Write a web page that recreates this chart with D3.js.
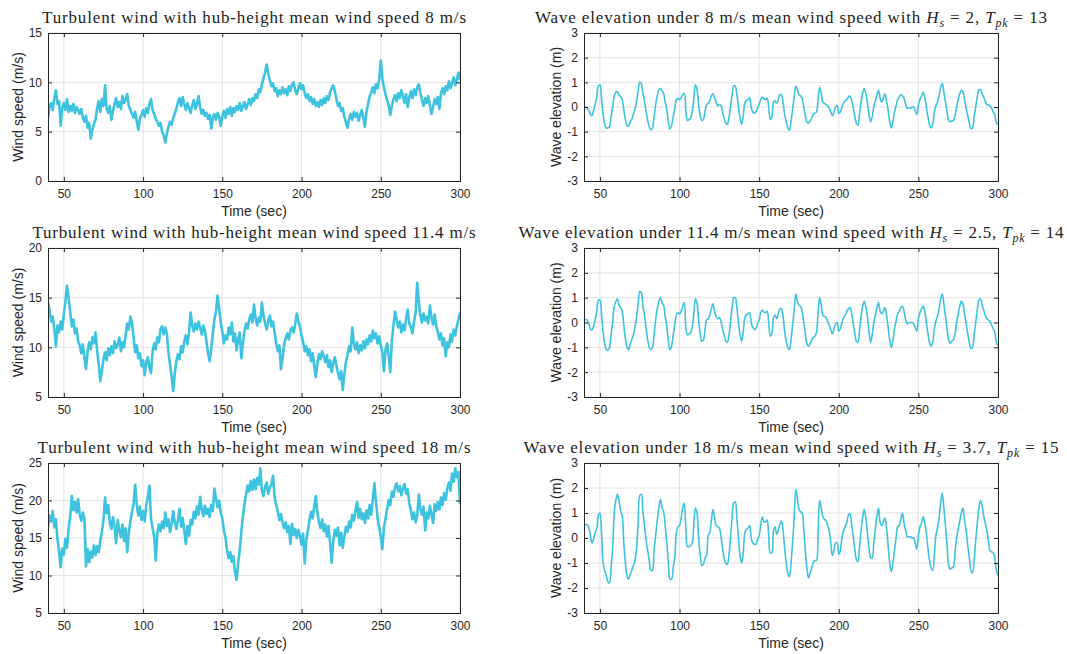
<!DOCTYPE html>
<html>
<head>
<meta charset="utf-8">
<script src="https://cdn.jsdelivr.net/npm/d3@7"></script>
<style>
  html, body { margin: 0; padding: 0; background: #fff; }
  svg { display: block; }
  .tick text { font-family: "Liberation Sans", Arial, sans-serif; font-size: 12px; fill: #262626; }
  .lbl { font-family: "Liberation Sans", Arial, sans-serif; font-size: 14px; fill: #262626; }
  .ttl { font-family: "Liberation Serif", "Times New Roman", serif; font-size: 17px; fill: #222; }
</style>
</head>
<body>
<svg id="chart" width="1067" height="654"></svg>
<script>
// time axis, 1 s samples from 40 to 300 s
var tStart = 40, tEnd = 300;
var xTicks = [50, 100, 150, 200, 250, 300];

// hub-height wind speed (m/s)
var wind8 = [
  6.3, 7.6, 7.9, 7.2, 8.4, 9.2, 7.8, 8.1, 5.6, 7.4,
  7.9, 7.2, 8.3, 7.0, 7.6, 7.1, 7.8, 6.9, 7.5, 7.2,
  6.8, 7.3, 6.4, 6.0, 6.6, 5.4, 5.9, 4.3, 5.2, 5.8,
  6.2, 7.4, 8.1, 7.0, 8.3, 7.6, 9.7, 7.3, 6.9, 7.6,
  6.2, 7.1, 7.8, 8.4, 7.5, 8.0, 7.3, 8.6, 7.9, 8.2,
  8.8, 7.6, 7.2, 6.8, 6.4, 7.0, 6.1, 5.2, 6.3, 6.7,
  7.2, 6.5, 7.4, 6.9, 7.8, 8.3, 7.2, 6.8, 6.3, 6.0,
  5.6, 5.9, 5.0, 4.6, 3.9, 4.8, 5.5, 6.0, 5.7, 6.4,
  6.8, 7.3, 8.0, 8.4, 7.6, 8.5, 7.8, 7.2, 7.9, 7.4,
  6.9, 7.7, 8.2, 7.3, 7.8, 8.6, 7.5, 6.8, 7.2, 6.6,
  6.9, 6.3, 6.7, 5.3, 6.4, 6.8, 6.2, 6.9, 6.5, 5.6,
  6.6, 7.1, 6.4, 7.3, 6.8, 7.5, 6.6, 7.4, 7.0, 7.6,
  7.2, 7.9, 7.1, 7.6, 8.0, 7.3, 7.8, 8.3, 7.7, 8.4,
  8.1, 8.8, 8.4, 9.3, 9.0, 9.8, 10.4, 11.0, 11.8, 10.9,
  10.2, 9.6, 9.9, 9.1, 9.4, 8.6, 9.2, 8.8, 9.5, 8.9,
  9.3, 8.7, 9.6, 9.1, 9.8, 10.0, 9.2, 8.8, 9.4, 9.9,
  9.3, 9.7, 8.9, 8.4, 8.8, 8.1, 8.5, 7.8, 8.3, 7.6,
  8.0, 7.5, 8.2, 7.7, 8.4, 7.9, 8.6, 8.2, 9.0, 9.4,
  9.7, 9.1, 8.3, 7.6, 7.9, 7.1, 7.4, 6.5, 6.0, 5.4,
  6.3, 6.8, 6.2, 7.0, 6.5, 6.9, 6.1, 6.7, 7.2, 6.4,
  5.5, 7.0, 7.8, 8.6, 9.0, 9.5, 8.9, 9.8, 9.4, 10.3,
  12.2, 10.4, 9.5, 8.8, 8.2, 7.7, 6.7, 7.6, 8.3, 8.7,
  8.1, 8.9, 8.4, 9.2, 8.6, 7.9, 8.8, 7.5, 8.5, 9.1,
  8.4, 9.3, 8.7, 9.5, 9.8, 8.9, 8.2, 7.6, 8.4, 7.9,
  8.6, 7.7, 6.8, 7.5, 8.3, 7.8, 8.5, 7.3, 8.9, 9.4,
  8.8, 9.6, 9.2, 10.1, 9.4, 9.9, 10.5, 9.7, 10.3, 11.0,
  10.2
];
var wind114 = [
  14.5, 13.8, 12.6, 13.1, 11.9, 10.1, 12.2, 11.5, 12.6, 11.8,
  13.4, 14.6, 16.2, 15.0, 13.6, 12.1, 12.8, 11.4, 11.9, 10.6,
  10.2, 9.4, 10.3, 8.9, 7.8, 9.6, 10.5, 9.8, 11.0, 10.4,
  11.5, 9.7, 8.3, 6.6, 7.6, 8.8, 9.5, 8.7, 9.9, 9.2,
  10.1, 9.4, 10.6, 9.9, 10.3, 11.0, 9.6, 10.5, 10.0, 11.2,
  12.4, 11.8, 13.1, 12.5, 11.0, 9.5, 10.2, 8.9, 9.4, 8.1,
  8.7, 7.2, 8.5, 9.0, 8.0, 7.4, 9.6, 10.4, 9.8, 11.0,
  10.5, 11.8, 12.1, 11.3, 12.0, 11.4, 9.5, 8.3, 7.1, 5.6,
  7.4, 8.6, 9.3, 8.8, 10.1, 9.5, 10.6, 11.2, 10.3, 11.5,
  13.5, 12.2, 11.6, 12.4, 11.8, 12.6, 12.0, 11.3, 12.2, 11.7,
  10.6, 9.4, 8.6, 9.8, 11.4, 12.8, 13.6, 15.2, 13.9, 12.5,
  11.6, 10.4, 11.2, 10.8, 12.0, 11.3, 12.5, 10.6, 11.4, 9.7,
  10.8, 11.5, 8.9, 10.4, 11.6, 12.4, 11.9, 12.8, 13.3, 12.5,
  14.3, 12.9, 12.2, 13.0, 12.6, 14.5, 13.2, 12.4, 11.8, 12.7,
  13.2, 12.1, 12.6, 11.5, 10.4, 9.6, 10.2, 7.8, 8.9, 10.3,
  10.9, 11.4, 10.8, 11.7, 12.0, 11.5, 12.3, 13.4, 12.6, 12.1,
  11.2, 10.5, 9.6, 10.1, 9.2, 9.8, 8.6, 9.4, 8.2, 7.0,
  8.4, 9.3, 8.8, 9.6, 9.1, 8.5, 9.2, 8.0, 8.7, 7.5,
  8.4, 9.0, 8.2, 7.4, 6.8, 7.6, 5.7, 7.3, 8.5, 9.2,
  10.1, 9.6, 12.0, 10.4, 9.8, 10.5, 9.4, 10.2, 9.7, 10.6,
  9.9, 10.8, 10.3, 11.2, 10.6, 11.7, 10.9, 11.4, 10.4, 11.1,
  10.2, 9.5, 7.6, 9.8, 10.4, 9.1, 7.5, 10.6, 12.2, 13.6,
  12.8, 12.0, 12.6, 11.5, 12.3, 11.7, 12.9, 13.8, 12.4, 12.0,
  11.4, 12.6, 13.5, 16.5, 14.6, 13.2, 12.5, 13.4, 12.7, 13.1,
  12.4, 14.2, 13.0, 12.3, 13.3, 12.1, 11.6, 10.8, 11.4, 10.2,
  10.9, 9.1, 10.5, 10.0, 11.3, 10.6, 11.8, 11.2, 12.1, 12.8,
  13.5
];
var wind18 = [
  16.5, 18.0, 17.2, 18.6, 16.4, 17.5, 14.8, 13.2, 11.1, 13.6,
  12.8, 14.9, 13.7, 16.2, 17.8, 20.6, 18.7, 19.8, 18.4, 20.2,
  18.1, 17.3, 18.4, 17.6, 11.2, 13.5, 11.8, 13.2, 12.4, 14.0,
  12.7, 13.9, 13.1, 14.6, 15.8, 17.4, 20.4, 18.3, 19.4, 17.0,
  16.2, 17.8, 16.5, 14.3, 17.4, 16.0, 15.1, 16.8, 14.6, 16.3,
  13.1, 15.8, 17.2, 18.5, 19.6, 22.1, 19.4, 18.0, 19.2, 17.4,
  18.6, 17.2, 19.3, 20.5, 22.0, 17.6, 16.3, 15.2, 12.0, 15.6,
  16.8, 15.9, 17.2, 16.3, 18.4, 16.6, 17.5, 15.8, 16.9, 18.6,
  17.1, 16.2, 17.4, 18.9, 16.5, 17.7, 16.0, 14.2, 16.6, 15.3,
  17.4, 16.8, 18.5, 17.6, 19.2, 18.1, 20.5, 18.8, 17.9, 19.3,
  18.2, 18.9, 17.8, 19.4, 18.6, 21.6, 20.3, 19.1, 20.0, 18.4,
  17.6, 16.0, 15.1, 13.4, 12.3, 13.1, 11.8, 12.6, 10.5, 9.4,
  11.6, 13.4, 15.8, 17.9, 19.6, 20.8, 22.0, 21.2, 22.6, 21.4,
  22.8, 21.5, 23.0, 22.1, 24.3, 21.3, 20.6, 21.8, 22.4, 20.9,
  21.7, 22.2, 23.3, 20.5, 19.4, 18.6, 17.4, 18.2, 17.0, 16.3,
  17.1, 15.8, 16.6, 14.2, 16.9, 15.4, 16.2, 15.0, 16.1, 15.3,
  14.1, 15.6, 11.6, 14.8, 16.0, 17.4, 18.5, 17.6, 19.2, 20.6,
  18.4, 17.1, 16.3, 17.5, 15.9, 16.8, 15.2, 16.6, 14.4, 11.7,
  14.6, 16.1, 15.3, 16.4, 14.0, 15.7, 13.7, 15.2, 16.5, 15.8,
  17.2, 16.4, 18.1, 17.3, 18.6, 19.8, 17.7, 18.9, 17.5, 18.3,
  17.0, 18.7, 17.6, 19.4, 18.1, 20.2, 22.3, 19.8, 17.6, 16.4,
  15.2, 13.5, 16.4, 17.6, 18.9, 20.1, 19.4, 21.2, 20.5, 21.8,
  22.3, 21.2, 21.9, 20.7, 21.6, 22.2, 20.9, 21.5, 19.6, 18.7,
  17.5, 18.4, 17.1, 18.0, 20.8, 18.9, 18.1, 19.2, 16.0, 18.4,
  17.6, 19.3, 18.2, 17.0, 19.5, 18.6, 19.8, 18.8, 20.4, 19.4,
  21.0, 20.1, 21.6, 22.4, 21.3, 23.6, 22.5, 24.3, 23.1, 23.8,
  19.5
];

// wave elevation (m)
var wave8 = [
  0.0, 0.0, -0.05, -0.15, -0.3, -0.35, -0.15, 0.1, 0.4, 0.85,
  0.9, 0.35, -0.3, -0.7, -0.85, -0.85, -0.8, -0.4, 0.0, 0.45,
  0.6, 0.62, 0.48, 0.42, 0.3, -0.1, -0.5, -0.75, -0.78, -0.6,
  -0.5, -0.3, -0.1, 0.2, 0.65, 1.0, 0.95, 0.55, 0.25, -0.2,
  -0.55, -0.8, -0.93, -0.85, -0.4, 0.1, 0.45, 0.7, 0.75, 0.65,
  0.55, 0.2, -0.1, -0.6, -0.9, -0.75, -0.4, -0.1, 0.3, 0.35,
  0.3, 0.38, 0.5, 0.55, -0.2, -0.55, -0.5, -0.45, -0.2, 0.35,
  0.9, 0.7, 0.1, -0.35, -0.55, -0.5, -0.2, 0.1, 0.15, 0.25,
  0.45, 0.55, 0.35, 0.2, 0.05, 0.1, 0.05, -0.2, -0.45, -0.65,
  -0.7, -0.45, 0.0, 0.5, 0.85, 0.85, 0.5, 0.0, -0.45, -0.7,
  -0.35, 0.15, 0.25, 0.3, 0.38, 0.0, -0.2, -0.25, -0.2, -0.05,
  0.1, 0.3, 0.4, 0.35, 0.3, 0.35, 0.0, -0.5, -0.4, 0.2,
  0.25, 0.15, 0.3, 0.5, 0.5, 0.2, -0.3, -0.6, -0.85, -0.95,
  -0.6, -0.1, 0.4, 0.85, 0.7, 0.5, 0.45, 0.35, 0.0, -0.35,
  -0.6, -0.65, -0.55, -0.45, -0.3, -0.25, -0.2, 0.3, 0.8, 0.55,
  0.2, 0.15, 0.1, 0.05, -0.05, -0.2, -0.35, -0.2, 0.0, 0.05,
  -0.25, -0.2, 0.0, 0.15, 0.25, 0.3, 0.4, 0.45, 0.3, 0.0,
  -0.35, -0.65, -0.75, -0.3, 0.2, 0.55, 0.75, 0.55, 0.15, -0.3,
  -0.6, -0.4, 0.0, 0.25, 0.5, 0.68, 0.35, 0.2, 0.35, 0.52,
  0.25, -0.15, -0.6, -0.85, -0.6, -0.2, 0.05, 0.3, 0.4, 0.5,
  0.45, 0.35, 0.1, -0.05, -0.05, -0.05, 0.0, 0.0, -0.15, -0.3,
  0.1, 0.3, 0.45, 0.6, 0.4, 0.0, -0.4, -0.7, -0.85, -0.7,
  -0.2, 0.05, 0.2, 0.45, 0.8, 0.95, 0.6, 0.2, -0.2, -0.55,
  -0.6, -0.55, -0.55, -0.35, 0.0, 0.3, 0.55, 0.68, 0.6, 0.3,
  -0.05, -0.35, -0.65, -0.88, -0.85, -0.4, 0.0, 0.4, 0.7, 0.7,
  0.55, 0.4, 0.25, 0.1, 0.08, 0.05, -0.05, -0.2, -0.3, -0.65,
  -0.7
];
var wave114 = [
  0.1, 0.12, 0.1, -0.05, -0.25, -0.3, -0.15, 0.1, 0.45, 0.9,
  0.92, 0.35, -0.4, -0.85, -1.08, -1.12, -1.0, -0.5, 0.0, 0.65,
  0.85, 0.95, 0.7, 0.6, 0.45, -0.1, -0.65, -1.0, -1.1, -0.85,
  -0.7, -0.5, -0.2, 0.2, 0.75, 1.25, 1.2, 0.65, 0.3, -0.25,
  -0.7, -1.0, -1.1, -1.0, -0.5, 0.1, 0.55, 0.85, 1.0, 0.8,
  0.7, 0.25, -0.15, -0.75, -1.1, -0.95, -0.5, -0.1, 0.3, 0.4,
  0.35, 0.45, 0.65, 0.8, -0.25, -0.5, -0.45, -0.4, -0.2, 0.4,
  0.95, 0.75, 0.1, -0.45, -0.75, -0.7, -0.3, 0.1, 0.15, 0.3,
  0.55, 0.75, 0.45, 0.25, 0.15, 0.2, 0.05, -0.25, -0.5, -0.75,
  -0.8, -0.55, 0.0, 0.6, 1.0, 1.0, 0.6, 0.0, -0.5, -0.75,
  -0.4, 0.2, 0.3, 0.35, 0.4, 0.0, -0.2, -0.28, -0.25, -0.05,
  0.1, 0.4, 0.5, 0.42, 0.4, 0.45, 0.0, -0.55, -0.45, 0.2,
  0.3, 0.15, 0.35, 0.55, 0.55, 0.25, -0.35, -0.75, -1.0, -1.1,
  -0.7, -0.1, 0.5, 1.15, 0.85, 0.7, 0.65, 0.45, 0.0, -0.45,
  -0.85, -0.95, -0.85, -0.7, -0.6, -0.55, -0.4, 0.35, 1.0, 0.7,
  0.3, 0.25, 0.2, 0.05, -0.1, -0.3, -0.45, -0.25, -0.05, 0.0,
  -0.35, -0.25, 0.0, 0.2, 0.3, 0.45, 0.55, 0.6, 0.4, 0.0,
  -0.4, -0.75, -0.8, -0.35, 0.25, 0.65, 0.85, 0.65, 0.2, -0.35,
  -0.8, -0.5, 0.0, 0.3, 0.6, 0.8, 0.45, 0.35, 0.45, 0.6,
  0.3, -0.2, -0.7, -1.0, -0.75, -0.25, 0.05, 0.35, 0.45, 0.6,
  0.65, 0.45, 0.1, -0.05, 0.0, 0.0, 0.0, -0.05, -0.2, -0.35,
  0.15, 0.4, 0.55, 0.65, 0.45, 0.0, -0.45, -0.8, -0.95, -0.8,
  -0.25, 0.05, 0.25, 0.55, 0.95, 1.15, 0.75, 0.25, -0.25, -0.7,
  -0.85, -0.75, -0.7, -0.45, 0.0, 0.35, 0.65, 0.85, 0.75, 0.35,
  -0.05, -0.45, -0.8, -1.05, -1.0, -0.5, 0.0, 0.5, 0.9, 0.95,
  0.7, 0.5, 0.3, 0.15, 0.1, 0.05, -0.1, -0.25, -0.4, -0.8,
  -0.95
];
var wave18 = [
  0.5, 0.52, 0.55, 0.4, 0.1, -0.2, -0.05, 0.2, 0.35, 0.9,
  1.0, 0.2, -1.0, -1.3, -1.5, -1.75, -1.8, -1.2, -0.4, 1.0,
  1.5, 1.75, 1.5, 1.1, 0.9, -0.2, -1.0, -1.5, -1.65, -1.45,
  -1.3, -1.1, -0.9, -0.4, 0.6, 1.7, 1.75, 1.05, 0.5, -0.1,
  -0.5, -0.9, -1.3, -1.3, -0.5, 0.1, 0.7, 1.2, 1.55, 1.2,
  1.05, 0.5, -0.2, -1.0, -1.65, -1.65, -1.2, -0.8, 0.2, 0.45,
  0.5, 0.8, 1.2, 1.4, 0.3, -0.35, -0.35, -0.3, -0.2, 0.6,
  1.2, 1.0, 0.0, -0.7, -1.1, -1.05, -0.8, -0.7, 0.1, 0.2,
  0.7, 1.15, 0.8, 0.5, 0.45, 0.4, 0.1, -0.4, -0.8, -1.0,
  -1.05, -0.7, 0.0, 0.8, 1.4, 1.45, 0.8, 0.0, -0.7, -1.0,
  -0.6, 0.2, 0.35, 0.4, 0.5, 0.0, -0.2, -0.25, -0.25, -0.05,
  0.1, 0.5, 0.85, 0.65, 0.65, 0.72, 0.1, -0.6, -0.6, 0.3,
  0.45, 0.15, 0.3, 0.55, 0.68, 0.3, -0.4, -1.0, -1.4, -1.55,
  -1.0, -0.2, 0.8, 1.95, 1.6, 1.15, 1.05, 1.0, 0.4, -0.5,
  -1.2, -1.6, -1.4, -1.2, -1.0, -0.9, -0.9, 0.2, 1.5, 1.2,
  0.85, 0.75, 0.7, 0.5, 0.3, -0.2, -0.7, -0.5, -0.2, -0.2,
  -0.65, -0.5, 0.0, 0.3, 0.45, 0.6, 0.9, 0.98, 0.6, 0.1,
  -0.4, -0.85, -0.95, -0.4, 0.3, 0.8, 1.15, 0.8, 0.2, -0.4,
  -0.8, -0.8, -0.2, 0.4, 0.9, 1.2, 0.6, 0.5, 0.65, 0.8,
  0.4, -0.3, -1.0, -1.35, -1.0, -0.5, 0.0, 0.45, 0.5, 0.75,
  1.0, 0.6, 0.3, 0.05, 0.05, 0.05, 0.0, 0.0, -0.2, -0.45,
  0.1, 0.45, 0.6, 0.85, 0.6, 0.2, -0.4, -0.9, -1.2, -1.3,
  -0.7, 0.1, 0.4, 0.8, 1.4, 1.8, 1.2, 0.5, -0.3, -1.1,
  -1.25, -1.2, -1.15, -0.6, 0.0, 0.35, 0.7, 1.0, 1.2, 0.7,
  0.3, -0.3, -0.8, -1.3, -1.4, -0.9, -0.1, 0.6, 1.2, 1.5,
  1.3, 0.9, 0.6, 0.3, -0.1, -0.5, -0.55, -0.6, -0.8, -1.3,
  -1.5
];

var windTicks8 = [0, 5, 10, 15];
var windTicks114 = [5, 10, 15, 20];
var windTicks18 = [5, 10, 15, 20, 25];
var waveTicks = [-3, -2, -1, 0, 1, 2, 3];

// title pieces: [text, italic, subscript]
var titles = [
  [["Turbulent wind with hub-height mean wind speed 8 m/s"]],
  [["Wave elevation under 8 m/s mean wind speed with "], ["H", 1], ["s", 1, 1], [" = 2, "], ["T", 1], ["pk", 1, 1], [" = 13"]],
  [["Turbulent wind with hub-height mean wind speed 11.4 m/s"]],
  [["Wave elevation under 11.4 m/s mean wind speed with "], ["H", 1], ["s", 1, 1], [" = 2.5, "], ["T", 1], ["pk", 1, 1], [" = 14"]],
  [["Turbulent wind with hub-height mean wind speed 18 m/s"]],
  [["Wave elevation under 18 m/s mean wind speed with "], ["H", 1], ["s", 1, 1], [" = 3.7, "], ["T", 1], ["pk", 1, 1], [" = 15"]]
];

var lineColor = "#3dc3e0";
var svg = d3.select("#chart");
var time = d3.range(tStart, tEnd + 1);

var cols = [[48, 460], [584, 998]];
var rows = [[33, 181], [248, 397], [463, 613]];
var titleW = [424, 512, 443, 545, 433, 535];

var panels = [
  { data: wind8, dom: [0, 15], ticks: windTicks8, ylab: "Wind speed (m/s)", wind: true },
  { data: wave8, dom: [-3, 3], ticks: waveTicks, ylab: "Wave elevation (m)" },
  { data: wind114, dom: [5, 20], ticks: windTicks114, ylab: "Wind speed (m/s)", wind: true },
  { data: wave114, dom: [-3, 3], ticks: waveTicks, ylab: "Wave elevation (m)" },
  { data: wind18, dom: [5, 25], ticks: windTicks18, ylab: "Wind speed (m/s)", wind: true },
  { data: wave18, dom: [-3, 3], ticks: waveTicks, ylab: "Wave elevation (m)" }
];

// plain hyphen minus like MATLAB, no trailing ".0"
var fmt = function (d) { return String(d); };

panels.forEach(function (p, i) {
  var cx = cols[i % 2], ry = rows[Math.floor(i / 2)];
  var w = cx[1] - cx[0], h = ry[1] - ry[0];
  var g = svg.append("g").attr("transform", "translate(" + cx[0] + "," + ry[0] + ")");

  var x = d3.scaleLinear().domain([tStart, tEnd]).range([0, w]);
  var y = d3.scaleLinear().domain(p.dom).range([h, 0]);

  // grid
  g.append("g").selectAll("line").data(xTicks).join("line")
    .attr("x1", d => x(d)).attr("x2", d => x(d)).attr("y1", 0).attr("y2", h)
    .attr("stroke", "#e3e3e3").attr("stroke-width", 1);
  g.append("g").selectAll("line").data(p.ticks).join("line")
    .attr("y1", d => y(d)).attr("y2", d => y(d)).attr("x1", 0).attr("x2", w)
    .attr("stroke", "#e3e3e3").attr("stroke-width", 1);

  // the series
  g.append("clipPath").attr("id", "clip" + i)
    .append("rect").attr("width", w).attr("height", h);
  var line = d3.line()
    .x((d, k) => x(time[k]))
    .y(d => y(d))
    .curve(p.wind ? d3.curveLinear : d3.curveCatmullRom);
  g.append("path").datum(p.data)
    .attr("clip-path", "url(#clip" + i + ")")
    .attr("fill", "none")
    .attr("stroke", lineColor)
    .attr("stroke-width", p.wind ? 2.6 : 1.6)
    .attr("stroke-linejoin", "round")
    .attr("d", line);

  // axes, ticks pointing in like MATLAB
  var ax = g.append("g").attr("transform", "translate(0," + h + ")")
    .call(d3.axisBottom(x).tickValues(xTicks).tickFormat(fmt).tickSizeInner(-4).tickSizeOuter(0).tickPadding(8.5));
  var ay = g.append("g")
    .call(d3.axisLeft(y).tickValues(p.ticks).tickFormat(fmt).tickSizeInner(-4).tickSizeOuter(0).tickPadding(6));
  var at = g.append("g")
    .call(d3.axisTop(x).tickValues(xTicks).tickSizeInner(-4).tickSizeOuter(0).tickFormat(""));
  var ar = g.append("g").attr("transform", "translate(" + w + ",0)")
    .call(d3.axisRight(y).tickValues(p.ticks).tickSizeInner(-4).tickSizeOuter(0).tickFormat(""));
  [ax, ay, at, ar].forEach(function (a) {
    a.select(".domain").remove();
    a.selectAll(".tick line").attr("stroke", "#262626");
    a.selectAll(".tick text").attr("fill", "#262626");
    a.attr("font-family", null).attr("font-size", null);
  });
  g.append("rect").attr("width", w).attr("height", h)
    .attr("fill", "none").attr("stroke", "#262626").attr("stroke-width", 1)
    .attr("shape-rendering", "crispEdges");

  // labels
  g.append("text").attr("class", "lbl")
    .attr("x", w / 2).attr("y", h + 35)
    .attr("text-anchor", "middle").text("Time (sec)");
  g.append("text").attr("class", "lbl")
    .attr("transform", "translate(" + (p.wind ? -30 : -28) + "," + (h / 2) + ") rotate(-90)")
    .attr("text-anchor", "middle").attr("dy", "0.35em").text(p.ylab);

  // title
  var tt = g.append("text").attr("class", "ttl")
    .attr("x", w / 2).attr("y", -10).attr("text-anchor", "middle");
  var shift = 0;
  titles[i].forEach(function (s) {
    var sp = tt.append("tspan").text(s[0]);
    if (s[1]) sp.attr("font-style", "italic");
    if (s[2]) { sp.attr("font-size", "12px").attr("dy", 4 - shift); shift = 4; }
    else if (shift) { sp.attr("dy", -shift); shift = 0; }
  });
  tt.attr("textLength", titleW[i]).attr("lengthAdjust", "spacing");
});
</script>
</body>
</html>
